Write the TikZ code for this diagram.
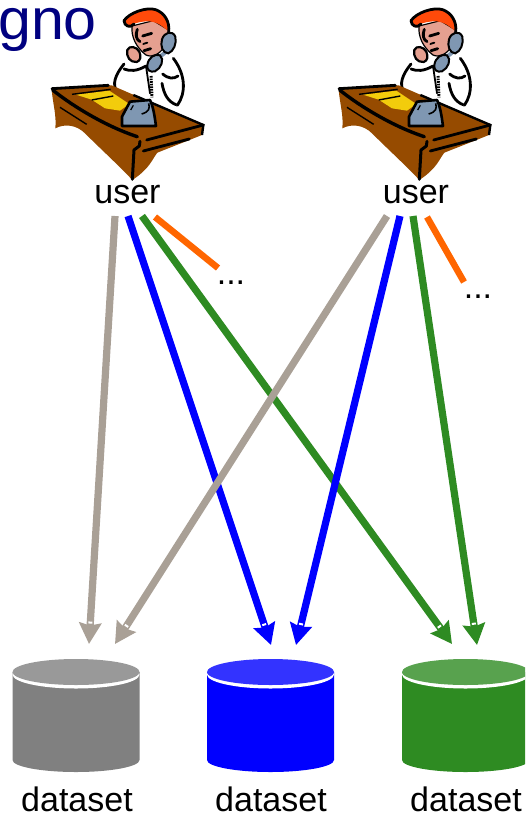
\documentclass[tikz,border=0pt]{standalone}
\usepackage{fontspec}
\setmainfont{Liberation Sans}
\usetikzlibrary{arrows.meta,calc}
\definecolor{gline}{HTML}{A9A096}
\definecolor{bline}{HTML}{0000FF}
\definecolor{vline}{HTML}{2E8B22}
\definecolor{oline}{HTML}{FF6600}
\definecolor{navytext}{HTML}{000080}
\definecolor{deskbrown}{HTML}{964B00}
\definecolor{paperyellow}{HTML}{F2CC0C}
\definecolor{phonegrey}{HTML}{7F97B2}
\definecolor{skin}{HTML}{E5A090}
\definecolor{hairorange}{HTML}{FF4A0A}
\definecolor{cylgreydark}{HTML}{808080}
\definecolor{cylgreylight}{HTML}{999999}
\definecolor{cylbluedark}{HTML}{0000FF}
\definecolor{cylbluelight}{HTML}{3333FF}
\definecolor{cylgreendark}{HTML}{2E8B22}
\definecolor{cylgreenlight}{HTML}{58A24E}
\tikzset{
  label34/.style={font=\fontsize{34}{34}\selectfont,inner sep=0pt,anchor=base},
  inkline/.style={draw=black,line width=1.8pt,line join=round,line cap=round},
  inkfat/.style={draw=black,line width=2.8pt,line join=round,line cap=round},
  linkhead/.style={line width=7.2pt,-{Stealth[length=21pt,width=22pt,inset=2.5pt]}},
  linkplain/.style={line width=6.5pt}
}
\newcommand{\clerk}[1]{%
\begin{scope}[shift={(#1,0)},scale=1/3]
  % shirt
  \path[fill=white] (250,190) .. controls (225,225) and (215,255) .. (228,275) -- (290,272) -- (410,318) .. controls (432,280) and (435,225) .. (400,175) -- (330,170) -- cycle;
  \draw[inkfat] (252,192) .. controls (225,225) and (215,255) .. (232,276);
  \draw[inkfat] (252,207) .. controls (270,214) and (290,214) .. (318,198);
  \draw[inkfat] (400,175) .. controls (438,225) and (438,280) .. (412,316);
  \draw[inkfat] (366,250) .. controls (372,285) and (385,305) .. (408,314);
  \draw[inkfat] (368,222) .. controls (385,236) and (400,238) .. (414,228);
  \draw[inkline] (318,198) -- (330,280);
  \draw[line width=3pt,dash pattern=on 1.6pt off 1pt] (333,228) -- (336,292);
  % face
  \path[fill=skin,draw=black,line width=1.2pt] (276,78) .. controls (273,110) and (288,142) .. (318,165) .. controls (338,174) and (358,162) .. (372,142) -- (386,90) -- (340,62) -- cycle;
  % hair
  \path[fill=hairorange] (252,62) .. controls (268,38) and (320,20) .. (347,29) .. controls (374,39) and (387,65) .. (386,94) -- (368,80) .. controls (345,62) and (320,60) .. (285,70) -- (268,82) -- cycle;
  \draw[inkfat] (252,62) .. controls (268,38) and (320,20) .. (347,29) .. controls (374,39) and (390,65) .. (386,96);
  \draw[inkfat] (252,62) .. controls (253,78) and (270,86) .. (282,72);
  % features
  \draw[inkfat] (292,88) .. controls (286,105) and (288,118) .. (300,125);
  \draw[inkfat] (308,108) -- (335,100);
  \draw[inkline] (322,128) -- (310,132);
  \draw[inkfat] (312,152) -- (332,146);
  % hand
  \path[fill=skin,draw=black,line width=2.2pt] (262,150) .. controls (258,170) and (270,188) .. (290,186) .. controls (302,182) and (304,170) .. (298,155) .. controls (290,140) and (268,135) .. (262,150) -- cycle;
  % phone
  \draw[phonegrey,line width=4pt] (385,150) -- (350,178);
  \path[fill=phonegrey,draw=black,line width=2pt] (366,118) .. controls (373,96) and (398,90) .. (406,110) .. controls (411,130) and (401,154) .. (385,160) .. controls (368,160) and (360,138) .. (366,118) -- cycle;
  \path[fill=phonegrey,draw=black,line width=2pt] (322,195) .. controls (325,172) and (345,160) .. (360,166) .. controls (374,178) and (364,205) .. (345,214) .. controls (330,218) and (320,210) .. (322,195) -- cycle;
  % desk
  \path[fill=deskbrown] (35,268) -- (215,256) -- (490,375) -- (486,405) -- (352,458) .. controls (335,480) and (330,505) .. (277,540) .. controls (240,500) and (180,445) .. (135,400) .. controls (110,375) and (75,370) .. (46,385) .. controls (50,345) and (38,310) .. (35,268) -- cycle;
  \draw[inkfat] (36,266) -- (205,256);
  \draw[line width=2.4pt] (280,285) -- (490,375) -- (486,405);
  \draw[line width=3.4pt,line cap=round] (38,270) .. controls (100,320) and (200,380) .. (292,410);
  \draw[inkfat] (320,420) -- (490,375);
  \draw[line width=1.4pt] (60,322) -- (140,373);
  \draw[inkfat] (310,453) -- (448,417);
  \draw[line width=3pt,line cap=round,line join=round] (300,424) -- (298,438) -- (282,450) -- (277,538);
  % paper
  \path[fill=paperyellow] (108,284) -- (208,272) -- (268,312) -- (240,332) -- (195,325) -- (155,299) -- cycle;
  \draw[black,line width=1.4pt] (96,283) -- (212,268);
  \draw[black,line width=1.4pt] (155,300) -- (220,288);
  % telephone
  \path[fill=phonegrey,draw=black,line width=2.6pt,line join=round] (270,305) -- (330,300) .. controls (340,320) and (344,350) .. (348,378) -- (246,378) -- (246,350) -- cycle;
  \draw[black,line width=1.6pt] (305,342) .. controls (328,335) and (330,325) .. (326,310);
  \draw[black,line width=1.2pt] (272,330) -- (280,316);
\end{scope}}
\newcommand{\cyl}[4]{%
\coordinate (#1) at (#2,716);
\begin{scope}[shift={(#2,0)}]
  \fill[#4] (-63.5,672) -- (-63.5,760) .. controls (-63.5,766.6) and (-35,772) .. (0,772) .. controls (35,772) and (63.5,766.6) .. (63.5,760) -- (63.5,672) -- cycle;
  \fill[white] (0,674.5) ellipse [x radius=63.5,y radius=14];
  \fill[#3] (0,672) ellipse [x radius=63.5,y radius=13];
\end{scope}}
\newcommand{\headlink}[3]{%
  \draw[linkhead,color=#1] (#2) -- (#3);
  \draw[white,line width=4pt] ($(#3)!20.5pt!(#2)$) -- ($(#3)!22.5pt!(#2)$);}
\begin{document}
\begin{tikzpicture}[x=1pt,y=-1pt]
\useasboundingbox (0,0) rectangle (525,816);
\clip (0,0) rectangle (525,816);
\node[font=\fontsize{58}{58}\selectfont,text=navytext,inner sep=0pt,anchor=base west,xscale=1.02] (title) at (-2,39.5) {gno};
\clerk{40}
\clerk{327}
\node[label34] (user1) at (127.5,203) {user};
\node[label34] (user2) at (416,203) {user};
\cyl{db1}{76}{cylgreylight}{cylgreydark}
\cyl{db2}{270.5}{cylbluelight}{cylbluedark}
\cyl{db3}{465.5}{cylgreenlight}{cylgreendark}
\node[label34] (data1) at (77,811) {dataset};
\node[label34] (data2) at (271,811) {dataset};
\node[label34] (data3) at (466,811) {dataset};
\node[label34] (more1) at (231,284) {...};
\node[label34] (more2) at (478,298) {...};
% connector ends
\coordinate (g1s) at (115,216); \coordinate (g1e) at (89,644);
\coordinate (b1s) at (128,216); \coordinate (b1e) at (271,645);
\coordinate (v1s) at (142,216); \coordinate (v1e) at (452,644);
\coordinate (o1s) at (155,217); \coordinate (o1e) at (218,268);
\coordinate (g2s) at (387,216); \coordinate (g2e) at (115,644);
\coordinate (b2s) at (400,216); \coordinate (b2e) at (296,645);
\coordinate (v2s) at (413,216); \coordinate (v2e) at (477,645);
\coordinate (o2s) at (427,217); \coordinate (o2e) at (464,282);
\headlink{vline}{v1s}{v1e}
\headlink{vline}{v2s}{v2e}
\headlink{bline}{b1s}{b1e}
\headlink{bline}{b2s}{b2e}
\headlink{gline}{g1s}{g1e}
\headlink{gline}{g2s}{g2e}
\draw[linkplain,oline] (o1s) -- (o1e);
\draw[linkplain,oline] (o2s) -- (o2e);
\end{tikzpicture}
\end{document}
